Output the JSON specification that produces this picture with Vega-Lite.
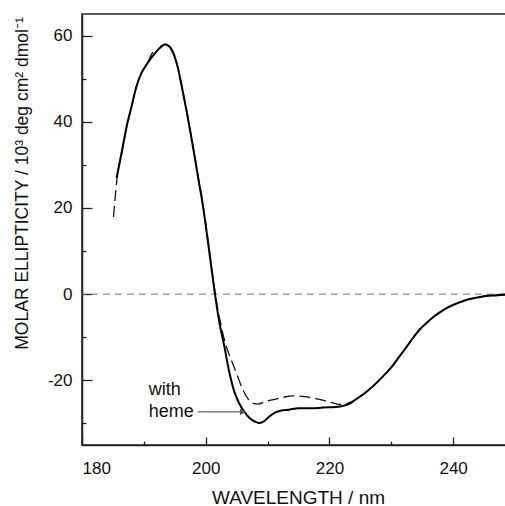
{
  "$schema": "https://vega.github.io/schema/vega-lite/v6.json",
  "autosize": "none",
  "width": 424,
  "height": 431,
  "padding": {"left": 82, "top": 14, "right": 0, "bottom": 61},
  "background": "white",
  "config": {
    "view": {"stroke": "#222", "strokeWidth": 1.5},
    "font": "Liberation Sans",
    "axis": {"grid": false, "labelFont": "Liberation Sans", "titleFont": "Liberation Sans", "labelColor": "#111", "titleColor": "#111", "domainColor": "#222", "tickColor": "#222", "domainWidth": 1.5, "tickWidth": 1.3, "titleFontWeight": "normal", "labelFontSize": 17}
  },
  "resolve": {"axis": {"x": "independent", "y": "independent"}},
  "datasets": {
    "heme": [
      {"wl": 185.6, "e": 27}, {"wl": 186.5, "e": 33.5}, {"wl": 187.2, "e": 38.8}, {"wl": 188.0, "e": 43.5},
      {"wl": 188.8, "e": 48.2}, {"wl": 189.6, "e": 51.3}, {"wl": 190.4, "e": 53.2}, {"wl": 191.2, "e": 54.8},
      {"wl": 192.0, "e": 56.2}, {"wl": 192.8, "e": 57.4}, {"wl": 193.4, "e": 57.9}, {"wl": 194.0, "e": 57.6},
      {"wl": 194.8, "e": 55.8}, {"wl": 195.5, "e": 52.5}, {"wl": 196.1, "e": 48.4}, {"wl": 196.8, "e": 43.3},
      {"wl": 197.5, "e": 37.8}, {"wl": 198.2, "e": 32}, {"wl": 198.8, "e": 26.8}, {"wl": 199.5, "e": 21},
      {"wl": 200.0, "e": 16}, {"wl": 200.7, "e": 8.5}, {"wl": 201.5, "e": 0}, {"wl": 202.2, "e": -6.5},
      {"wl": 203.0, "e": -12}, {"wl": 203.8, "e": -18}, {"wl": 204.6, "e": -22.5}, {"wl": 205.4, "e": -25.3},
      {"wl": 206.1, "e": -27}, {"wl": 207.0, "e": -28.6}, {"wl": 208.0, "e": -29.6}, {"wl": 208.6, "e": -29.9},
      {"wl": 209.4, "e": -29.5}, {"wl": 210.3, "e": -28.4}, {"wl": 211.2, "e": -27.5}, {"wl": 212.2, "e": -27},
      {"wl": 213.5, "e": -26.8}, {"wl": 215.0, "e": -26.5}, {"wl": 217.0, "e": -26.5}, {"wl": 219.0, "e": -26.3},
      {"wl": 221.0, "e": -26.2}, {"wl": 222.5, "e": -25.8}, {"wl": 223.5, "e": -25.2}, {"wl": 224.5, "e": -24.2},
      {"wl": 225.7, "e": -23}, {"wl": 227.0, "e": -21.4}, {"wl": 228.5, "e": -19.3}, {"wl": 230.0, "e": -17},
      {"wl": 231.3, "e": -14.5}, {"wl": 232.5, "e": -12.2}, {"wl": 233.6, "e": -10}, {"wl": 234.6, "e": -8.2},
      {"wl": 235.7, "e": -6.7}, {"wl": 236.8, "e": -5.3}, {"wl": 238.0, "e": -4.1}, {"wl": 239.0, "e": -3.2},
      {"wl": 240.5, "e": -2.2}, {"wl": 242.0, "e": -1.4}, {"wl": 243.5, "e": -0.9}, {"wl": 245.0, "e": -0.5},
      {"wl": 246.5, "e": -0.3}, {"wl": 248.5, "e": -0.1}
    ],
    "noheme": [
      {"wl": 185.1, "e": 17.9}, {"wl": 185.6, "e": 26}, {"wl": 186.5, "e": 33.3}, {"wl": 187.2, "e": 38.6},
      {"wl": 188.0, "e": 43.4}, {"wl": 188.8, "e": 48.1}, {"wl": 189.6, "e": 51.2}, {"wl": 190.5, "e": 53.3},
      {"wl": 191.4, "e": 56.0}, {"wl": 192.2, "e": 56.6}, {"wl": 192.8, "e": 57.5}, {"wl": 193.4, "e": 58},
      {"wl": 194.0, "e": 57.7}, {"wl": 194.8, "e": 55.9}, {"wl": 195.5, "e": 52.6}, {"wl": 196.1, "e": 48.5},
      {"wl": 196.8, "e": 43.4}, {"wl": 197.5, "e": 38}, {"wl": 198.2, "e": 32.3}, {"wl": 198.8, "e": 27.2},
      {"wl": 199.5, "e": 21.3}, {"wl": 200.0, "e": 16.4}, {"wl": 200.7, "e": 9}, {"wl": 201.5, "e": 0.5},
      {"wl": 202.3, "e": -6}, {"wl": 203.3, "e": -12}, {"wl": 204.2, "e": -15.5}, {"wl": 205.0, "e": -18.4},
      {"wl": 205.8, "e": -21.5}, {"wl": 206.9, "e": -24.4}, {"wl": 207.8, "e": -25.4}, {"wl": 208.5, "e": -25.5},
      {"wl": 209.5, "e": -25}, {"wl": 210.5, "e": -24.6}, {"wl": 212.0, "e": -24.1}, {"wl": 214.2, "e": -23.6},
      {"wl": 216.0, "e": -23.8}, {"wl": 218.0, "e": -24.3}, {"wl": 220.0, "e": -25}, {"wl": 221.7, "e": -25.6},
      {"wl": 223.0, "e": -25.3}, {"wl": 224.5, "e": -24.2}, {"wl": 225.7, "e": -23}, {"wl": 227.0, "e": -21.4},
      {"wl": 228.5, "e": -19.3}, {"wl": 230.0, "e": -17}, {"wl": 231.3, "e": -14.5}, {"wl": 232.5, "e": -12.2},
      {"wl": 233.6, "e": -10}, {"wl": 234.6, "e": -8.2}, {"wl": 235.7, "e": -6.7}, {"wl": 236.8, "e": -5.3},
      {"wl": 238.0, "e": -4.1}, {"wl": 239.0, "e": -3.2}, {"wl": 240.5, "e": -2.2}, {"wl": 242.0, "e": -1.4},
      {"wl": 243.5, "e": -0.9}, {"wl": 245.0, "e": -0.5}, {"wl": 246.5, "e": -0.3}, {"wl": 248.5, "e": -0.1}
    ],
    "labels": [
      {"wl": 190.8, "e": -22.2, "text": "with"},
      {"wl": 190.8, "e": -27.3, "text": "heme"}
    ],
    "arrow": [
      {"wl": 198.7, "e": -27.3, "wl2": 205.6},
      {"wl": 206.0, "e": -27.3, "wl2": 206.0}
    ],
    "zero": [{"e": 0}]
  },
  "layer": [
    {
      "data": {"name": "zero"},
      "mark": {"type": "rule", "color": "#777", "strokeDash": [7, 5], "strokeWidth": 1},
      "encoding": {"y": {"field": "e", "type": "quantitative", "scale": {"domain": [-35, 65], "nice": false, "zero": false}, "axis": null}}
    },
    {
      "data": {"name": "noheme"},
      "mark": {"type": "line", "color": "#111", "strokeWidth": 1.3, "strokeDash": [11, 5], "interpolate": "monotone"},
      "encoding": {
        "x": {"field": "wl", "type": "quantitative", "scale": {"domain": [180, 248.55], "nice": false, "zero": false},
          "axis": {"orient": "top", "offset": -431, "values": [180, 190, 200, 210, 220, 230, 240], "labels": false, "domain": false, "title": null,
            "tickSize": {"condition": {"test": "datum.value % 20 === 0", "value": 8}, "value": 4}}},
        "y": {"field": "e", "type": "quantitative", "scale": {"domain": [-35, 65], "nice": false, "zero": false},
          "axis": {"orient": "right", "offset": -424, "values": [-30, -20, -10, 0, 10, 20, 30, 40, 50, 60], "labels": false, "domain": false, "title": null,
            "tickSize": {"condition": {"test": "datum.value % 20 === 0", "value": 10}, "value": 4}}}
      }
    },
    {
      "data": {"name": "heme"},
      "mark": {"type": "line", "color": "#000", "strokeWidth": 2, "interpolate": "monotone"},
      "encoding": {
        "x": {"field": "wl", "type": "quantitative", "scale": {"domain": [180, 248.55], "nice": false, "zero": false},
          "axis": {"orient": "bottom", "values": [180, 200, 220, 240], "ticks": false, "labelPadding": 15, "labelBaseline": "top",
            "title": "WAVELENGTH / nm", "titleFontSize": 19, "titleX": 216, "titleY": 52, "titleBaseline": "middle"}},
        "y": {"field": "e", "type": "quantitative", "scale": {"domain": [-35, 65], "nice": false, "zero": false},
          "axis": {"orient": "left", "values": [-20, 0, 20, 40, 60], "ticks": false, "labelPadding": 10,
            "labelExpr": "'' + datum.value",
            "title": "MOLAR  ELLIPTICITY / 10³ deg cm² dmol⁻¹", "titleFontSize": 17.5, "titleX": -60, "titleY": 169, "titleAlign": "center", "titleBaseline": "middle"}}
      }
    },
    {
      "data": {"name": "labels"},
      "mark": {"type": "text", "align": "left", "baseline": "middle", "fontSize": 18, "font": "Liberation Sans", "color": "#111"},
      "encoding": {
        "x": {"field": "wl", "type": "quantitative", "axis": null},
        "y": {"field": "e", "type": "quantitative", "axis": null},
        "text": {"field": "text"}
      }
    },
    {
      "data": {"name": "arrow"},
      "transform": [{"filter": "datum.wl2 > datum.wl"}],
      "mark": {"type": "rule", "color": "#666", "strokeWidth": 1.2},
      "encoding": {
        "x": {"field": "wl", "type": "quantitative", "axis": null},
        "x2": {"field": "wl2"},
        "y": {"field": "e", "type": "quantitative", "axis": null}
      }
    },
    {
      "data": {"name": "arrow"},
      "transform": [{"filter": "datum.wl2 == datum.wl"}],
      "mark": {"type": "point", "shape": "triangle-right", "filled": true, "color": "#555", "size": 45, "opacity": 1},
      "encoding": {
        "x": {"field": "wl", "type": "quantitative", "axis": null},
        "y": {"field": "e", "type": "quantitative", "axis": null}
      }
    }
  ]
}
